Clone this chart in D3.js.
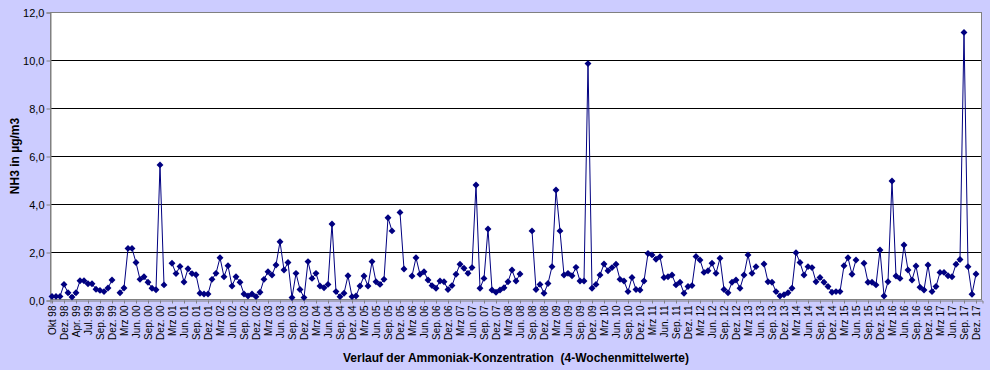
<!DOCTYPE html>
<html>
<head>
<meta charset="utf-8">
<script src="https://cdn.jsdelivr.net/npm/d3@7"></script>
<style>
  body { margin: 0; background: #ccccff; }
  svg { display: block; font-family: "Liberation Sans", Arial, sans-serif; }
</style>
</head>
<body>
<div id="chart"></div>
<script>
// NH3 4-week means, one value per category (null = no measurement)
const values = [
  0.15, 0.15, 0.15, 0.65, 0.3, 0.12, 0.3, 0.8, 0.8, 0.68,
  0.68, 0.45, 0.4, 0.35, 0.5, 0.83, null, 0.3, 0.5, 2.15,
  2.15, 1.56, 0.86, 0.97, 0.74, 0.49, 0.43, 5.63, 0.63, null,
  1.53, 1.1, 1.4, 0.75, 1.3, 1.1, 1.05, 0.28, 0.25, 0.25,
  0.86, 1.11, 1.76, 0.97, 1.43, 0.58, 0.97, 0.74, 0.25, 0.17,
  0.25, 0.14, 0.32, 0.86, 1.18, 1.04, 1.46, 2.43, 1.25, 1.56,
  0.1, 1.11, 0.44, 0.1, 1.6, 0.9, 1.11, 0.58, 0.51, 0.65,
  3.17, 0.35, 0.14, 0.28, 1.01, 0.14, 0.17, 0.58, 1.0, 0.58,
  1.6, 0.76, 0.65, 0.86, 3.43, 2.88, null, 3.65, 1.29, null,
  1.0, 1.76, 1.07, 1.18, 0.83, 0.6, 0.49, 0.79, 0.76, 0.44,
  0.6, 1.07, 1.49, 1.32, 1.11, 1.35, 4.79, 0.49, 0.9, 2.96,
  0.42, 0.32, 0.42, 0.51, 0.76, 1.25, 0.79, 1.08, null, null,
  2.88, 0.44, 0.65, 0.28, 0.69, 1.39, 4.58, 2.88, 1.04, 1.11,
  1.01, 1.36, 0.79, 0.79, 9.85, 0.49, 0.65, 1.04, 1.5, 1.22,
  1.35, 1.49, 0.86, 0.79, 0.35, 0.94, 0.44, 0.42, 0.79, 1.94,
  1.88, 1.7, 1.8, 0.94, 0.97, 1.04, 0.63, 0.74, 0.28, 0.56,
  0.6, 1.81, 1.67, 1.15, 1.22, 1.53, 1.11, 1.74, 0.44, 0.3,
  0.74, 0.83, 0.49, 1.04, 1.88, 1.11, 1.39, null, 1.5, 0.76,
  0.74, 0.35, 0.17, 0.22, 0.3, 0.49, 1.97, 1.56, 1.04, 1.39,
  1.35, 0.76, 0.94, 0.74, 0.56, 0.32, 0.35, 0.35, 1.43, 1.76,
  1.07, 1.67, null, 1.53, 0.74, 0.74, 0.63, 2.08, 0.17, 0.76,
  4.96, 1.0, 0.9, 2.29, 1.25, 0.83, 1.42, 0.53, 0.42, 1.46,
  0.35, 0.56, 1.15, 1.15, 1.01, 0.97, 1.49, 1.69, 11.15, 1.39,
  0.24, 1.08
];

// every third category carries a label
const tickLabels = [
  "Okt 98", "Dez. 98", "Apr. 99", "Jul. 99", "Sep. 99", "Dez. 99",
  "Mrz 00", "Jun. 00", "Sep. 00", "Dez. 00",
  "Mrz 01", "Jun. 01", "Sep. 01", "Dez. 01",
  "Mrz 02", "Jun. 02", "Sep. 02", "Dez. 02",
  "Mrz 03", "Jun. 03", "Sep. 03", "Dez. 03",
  "Mrz 04", "Jun. 04", "Sep. 04", "Dez. 04",
  "Mrz 05", "Jun. 05", "Sep. 05", "Dez. 05",
  "Mrz 06", "Jun. 06", "Sep. 06", "Dez. 06",
  "Mrz 07", "Jun. 07", "Sep. 07", "Dez. 07",
  "Mrz 08", "Jun. 08", "Sep. 08", "Dez. 08",
  "Mrz 09", "Jun. 09", "Sep. 09", "Dez. 09",
  "Mrz 10", "Jun. 10", "Sep. 10", "Dez. 10",
  "Mrz 11", "Jun. 11", "Sep. 11", "Dez. 11",
  "Mrz 12", "Jun. 12", "Sep. 12", "Dez. 12",
  "Mrz 13", "Jun. 13", "Sep. 13", "Dez. 13",
  "Mrz 14", "Jun. 14", "Sep. 14", "Dez. 14",
  "Mrz 15", "Jun. 15", "Sep. 15", "Dez. 15",
  "Mrz 16", "Jun. 16", "Sep. 16", "Dez. 16",
  "Mrz 17", "Jun. 17", "Sep. 17", "Dez. 17"
];
const labelStep = 3;

const yTicks = [0, 2, 4, 6, 8, 10, 12];

const width = 990;
const height = 370;
const margin = { top: 12, right: 8, bottom: 70, left: 50 };

const svg = d3
  .select("#chart")
  .append("svg")
  .attr("width", width)
  .attr("height", height);

svg.append("rect")
  .attr("width", width)
  .attr("height", height)
  .attr("fill", "#ccccff");

// one spare category after the last value, as in the original axis
const categories = d3.range(values.length + 1);

const xScale = d3
  .scaleBand()
  .domain(categories)
  .range([margin.left, width - margin.right]);

const yScale = d3
  .scaleLinear()
  .domain([0, 12])
  .range([height - margin.bottom, margin.top]);

const xMid = (i) => xScale(i) + xScale.bandwidth() / 2;

// plot area
svg.append("rect")
  .attr("x", margin.left)
  .attr("y", margin.top)
  .attr("width", width - margin.left - margin.right)
  .attr("height", height - margin.top - margin.bottom)
  .attr("fill", "white");

// gridlines
svg.append("g")
  .selectAll("line")
  .data(yTicks.filter((t) => t > 0 && t < 12))
  .enter()
  .append("line")
  .attr("x1", margin.left)
  .attr("x2", width - margin.right)
  .attr("y1", (d) => Math.round(yScale(d)) + 0.5)
  .attr("y2", (d) => Math.round(yScale(d)) + 0.5)
  .attr("stroke", "black")
  .attr("stroke-width", 1);

// plot border
svg.append("rect")
  .attr("x", margin.left + 0.5)
  .attr("y", margin.top + 0.5)
  .attr("width", width - margin.left - margin.right - 1)
  .attr("height", height - margin.top - margin.bottom - 1)
  .attr("fill", "none")
  .attr("stroke", "#808080");

// y axis
const yAxis = svg
  .append("g")
  .attr("transform", `translate(${margin.left + 0.5}, 0.5)`)
  .call(
    d3.axisLeft(yScale)
      .tickValues(yTicks)
      .tickSize(4)
      .tickFormat((d) => d3.format(".1f")(d).replace(".", ","))
  );
yAxis.select(".domain").attr("stroke", "#808080");
yAxis.selectAll(".tick line").attr("stroke", "#808080");
yAxis.selectAll("text")
  .attr("font-size", 11)
  .attr("font-family", "Liberation Sans, Arial, sans-serif")
  .attr("fill", "black")
  .attr("x", -6);

// x axis, labels every third category
const labelled = categories.filter((i) => i % labelStep === 0 && i / labelStep < tickLabels.length);
const xAxis = svg
  .append("g")
  .attr("transform", `translate(0.5, ${height - margin.bottom + 0.5})`)
  .call(
    d3.axisBottom(xScale)
      .tickValues(labelled)
      .tickSize(3)
      .tickFormat((d) => tickLabels[d / labelStep])
  );
xAxis.select(".domain").attr("stroke", "#808080");
xAxis.selectAll(".tick line").attr("stroke", "#808080");
xAxis.selectAll("text")
  .attr("font-size", 10)
  .attr("font-family", "Liberation Sans, Arial, sans-serif")
  .attr("fill", "black")
  .attr("transform", "rotate(-90)")
  .attr("text-anchor", "end")
  .attr("x", -5)
  .attr("y", 0)
  .attr("dy", "0.35em");

// line with gaps where there is no value
const line = d3
  .line()
  .defined((d) => d !== null)
  .x((d, i) => xMid(i))
  .y((d) => yScale(d));

svg.append("path")
  .datum(values)
  .attr("d", line)
  .attr("fill", "none")
  .attr("stroke", "#000080")
  .attr("stroke-width", 1);

// diamond markers
const diamond = d3.symbol().type(d3.symbolSquare).size(24);
svg.append("g")
  .selectAll("path")
  .data(values.map((v, i) => ({ v, i })).filter((d) => d.v !== null))
  .enter()
  .append("path")
  .attr("d", diamond)
  .attr("transform", (d) => `translate(${xMid(d.i)}, ${yScale(d.v)}) rotate(45)`)
  .attr("fill", "#000080");

// axis titles
svg.append("text")
  .attr("x", -(margin.top + (height - margin.bottom)) / 2)
  .attr("y", 19)
  .attr("transform", "rotate(-90)")
  .attr("text-anchor", "middle")
  .attr("font-size", 12)
  .attr("font-weight", "bold")
  .text("NH3 in µg/m3");

svg.append("text")
  .attr("x", (margin.left + width - margin.right) / 2)
  .attr("y", 362)
  .attr("text-anchor", "middle")
  .attr("font-size", 12)
  .attr("font-weight", "bold")
  .attr("xml:space", "preserve")
  .text("Verlauf der Ammoniak-Konzentration  (4-Wochenmittelwerte)");
</script>
</body>
</html>
